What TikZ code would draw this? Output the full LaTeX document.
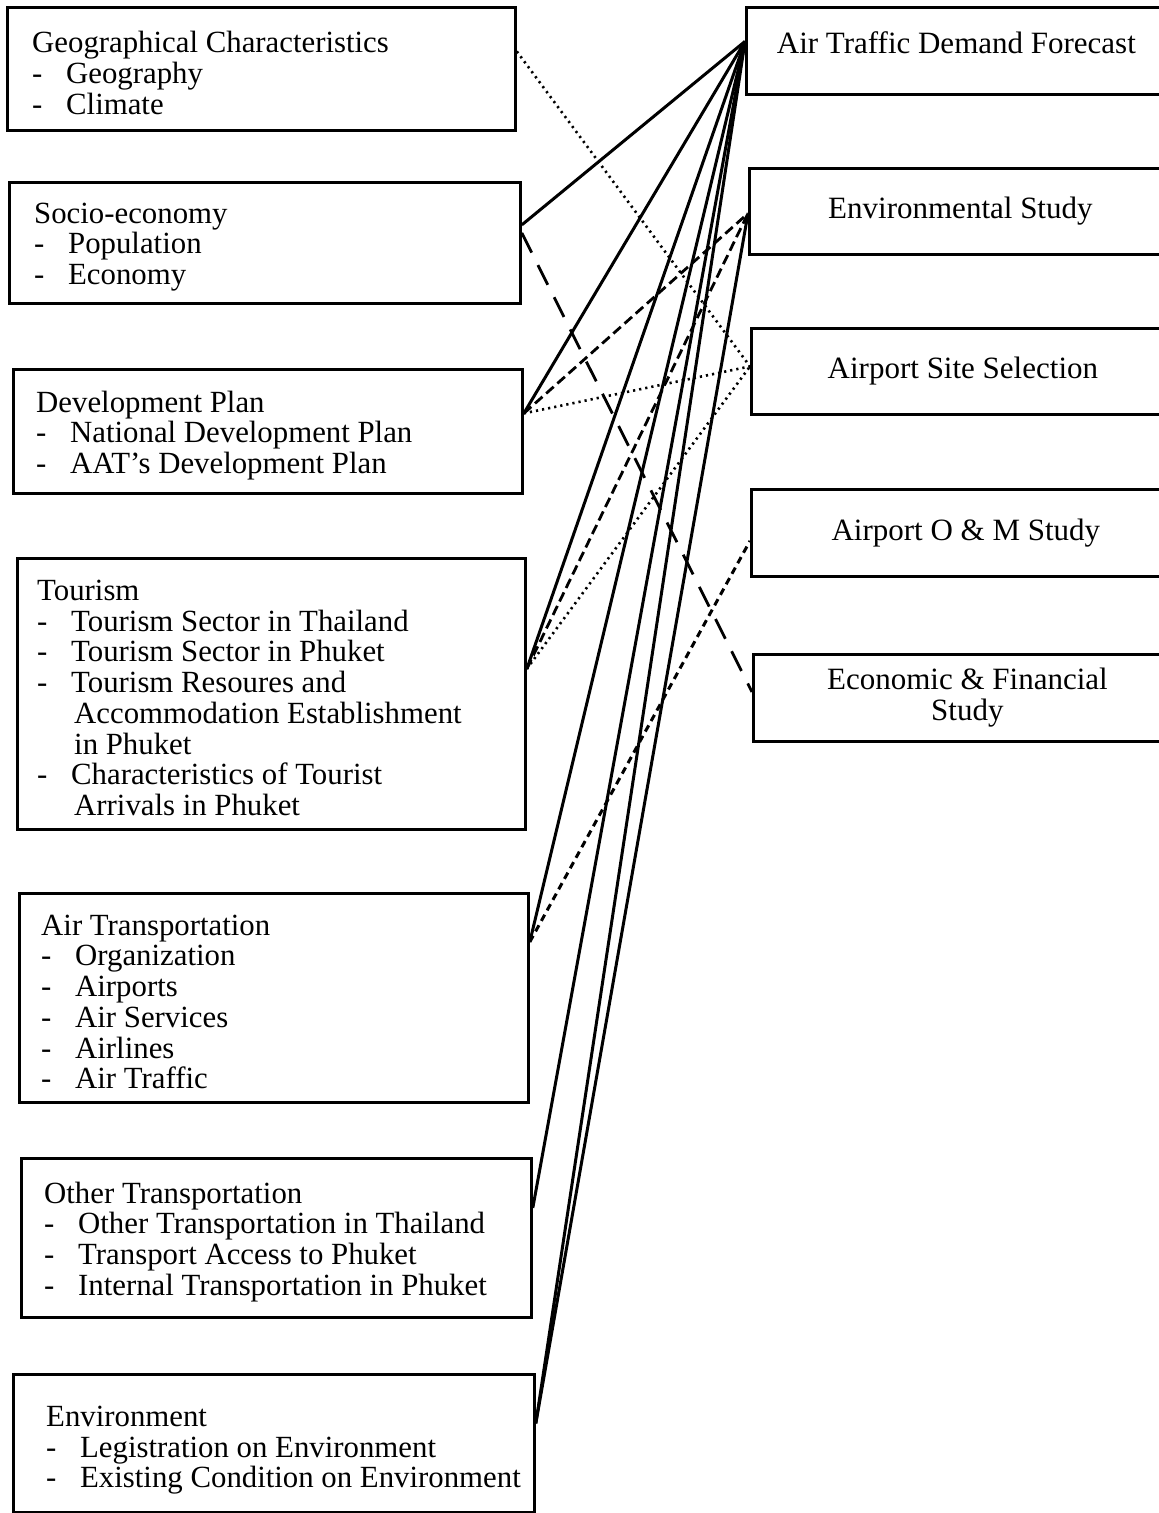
\documentclass[tikz,border=0pt]{standalone}
\usepackage{fontspec}
\setmainfont{Liberation Serif}
\usetikzlibrary{positioning}
\tikzstyle{srcbox}=[draw, line width=2.8pt, anchor=north west, inner sep=0pt]
\tikzstyle{srctext}=[align=left, inner sep=0pt, yshift=-4pt, font=\fontsize{30.8}{30.7}\selectfont]
\tikzstyle{studybox}=[draw, line width=2.8pt, anchor=north west, align=center, inner sep=0pt, font=\fontsize{31}{31}\selectfont]
\tikzstyle{solidlink}=[line width=3pt]
\tikzstyle{dotlink}=[line width=2.6pt, dash pattern=on 2.2pt off 4pt]
\tikzstyle{dashlink}=[line width=2.8pt, dash pattern=on 10pt off 5pt]
\tikzstyle{shortdashlink}=[line width=3pt, dash pattern=on 7pt off 5pt]
\tikzstyle{longdashlink}=[line width=2.8pt, dash pattern=on 22pt off 14pt]
\newcommand{\itm}{\makebox[34pt][l]{-}}
\newcommand{\cont}{\hspace*{37pt}}

\begin{document}
\begin{tikzpicture}[x=1pt, y=-1pt]
\useasboundingbox (0,0) rectangle (1159,1513);
\clip (0,0) rectangle (1159,1513);

    % studies on the right
    \node[studybox, minimum width=420pt, minimum height=87pt, text depth=16pt] (dem) at (745,6) {Air Traffic Demand Forecast};
    \foreach \pos/\name/\w/\h/\txt in {{(748,167)/envs/422/86/{Environmental Study}}, {(750,327)/site/423/86/{Airport Site Selection}}, {(750,488)/om/429/87/{Airport O \& M Study}}, {(752,653)/eco/428/87/{Economic \& Financial\\Study}}}
        \node[studybox, minimum width=\w pt, minimum height=\h pt] (\name) at \pos {\txt};

%data items on the left
\node[srcbox, minimum width=508pt, minimum height=123pt] (geo) at (6,6) {};
\node[srctext, right=26pt of geo.west] (geo-txt) {Geographical Characteristics\\ \itm Geography\\ \itm Climate};

\node[srcbox, minimum width=511pt, minimum height=121pt] (soc) at (8,181) {};
\node[srctext, right=26pt of soc.west] (soc-txt) {Socio-economy\\ \itm Population\\ \itm Economy};

\node[srcbox, minimum width=509pt, minimum height=124pt] (dev) at (12,368) {};
\node[srctext, right=24pt of dev.west] (dev-txt) {Development Plan\\ \itm National Development Plan\\ \itm AAT's Development Plan};

\node[srcbox, minimum width=508pt, minimum height=271pt] (tour) at (16,557) {};
\node[srctext, right=21pt of tour.west] (tour-txt) {Tourism\\ \itm Tourism Sector in Thailand\\ \itm Tourism Sector in Phuket\\ \itm Tourism Resoures and\\ \cont Accommodation Establishment\\ \cont in Phuket\\ \itm Characteristics of Tourist\\ \cont Arrivals in Phuket};

\node[srcbox, minimum width=509pt, minimum height=209pt] (air) at (18,892) {};
\node[srctext, right=23pt of air.west] (air-txt) {Air Transportation\\ \itm Organization\\ \itm Airports\\ \itm Air Services\\ \itm Airlines\\ \itm Air Traffic};

\node[srcbox, minimum width=510pt, minimum height=159pt] (oth) at (20,1157) {};
\node[srctext, right=24pt of oth.west] (oth-txt) {Other Transportation\\ \itm Other Transportation in Thailand\\ \itm Transport Access to Phuket\\ \itm Internal Transportation in Phuket};

\node[srcbox, minimum width=521pt, minimum height=138pt] (env) at (12,1373) {};
\node[srctext, right=34pt of env.west, yshift=-3pt] (env-txt) {Environment\\ \itm Legistration on Environment\\ \itm Existing Condition on Environment};

% end points of the links
\coordinate (geo-r) at ([yshift=17.5pt]geo.east);
\coordinate (soc-r) at ([yshift=18pt]soc.east);
\coordinate (soc-d) at ([yshift=10pt]soc.east);
\coordinate (dev-r) at ([yshift=18pt]dev.east);
\coordinate (tour-r) at ([yshift=25pt]tour.east);
\coordinate (air-r) at ([yshift=56pt]air.east);
\coordinate (oth-r) at ([yshift=30pt]oth.east);
\coordinate (env-r) at ([yshift=20pt]env.east);
\coordinate (dem-l) at ([yshift=9.5pt]dem.west);
\coordinate (envs-l) at ([yshift=-2pt]envs.west);
\coordinate (site-l) at ([yshift=5pt]site.west);
\coordinate (om-l) at ([yshift=-8pt]om.west);
\coordinate (eco-l) at ([yshift=6pt]eco.west);

    \foreach \source/\dest in {geo-r/site-l, dev-r/site-l, tour-r/site-l}
        \draw[dotlink] (\source) -- (\dest);
    \foreach \source/\dest in {dev-r/envs-l, tour-r/envs-l}
        \draw[dashlink] (\source) -- (\dest);
    \draw[shortdashlink] (air-r) -- (om-l);
    \draw[longdashlink] (soc-d) -- (eco-l);
    \foreach \source/\dest in {soc-r/dem-l, dev-r/dem-l, tour-r/dem-l, air-r/dem-l, oth-r/dem-l, env-r/dem-l, env-r/envs-l}
        \draw[solidlink] (\source) -- (\dest);

\end{tikzpicture}
\end{document}
